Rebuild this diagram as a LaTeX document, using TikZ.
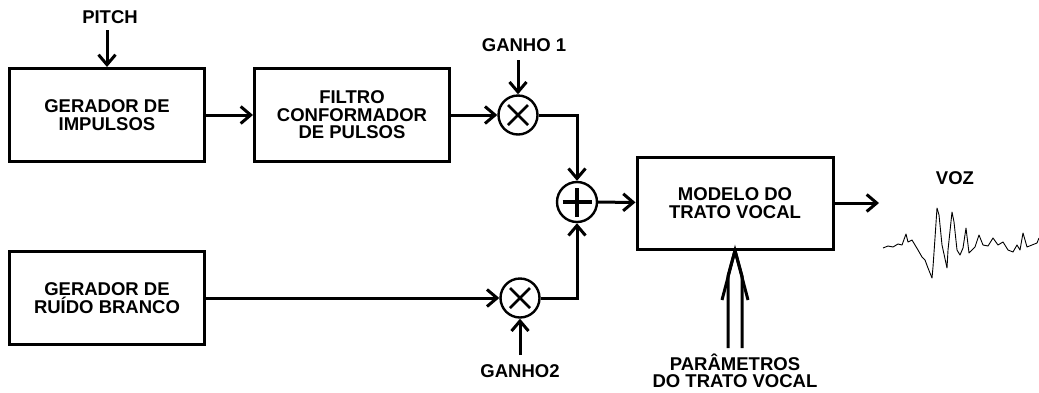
\documentclass[tikz,border=0pt]{standalone}
\usepackage{fontspec}
\setmainfont{Liberation Sans}
\usepackage{tikz}
\usetikzlibrary{arrows.meta, positioning}

\begin{document}
\begin{tikzpicture}[
    x=1pt, y=-1pt,
    font=\bfseries\fontsize{18.5}{17.5}\selectfont,
    block/.style={rectangle, draw, line width=3pt, minimum width=195pt,
                 minimum height=93pt, align=center, inner sep=0pt},
    lbl/.style={align=center, inner sep=0pt},
    mult/.style={circle, draw, line width=2.4pt, minimum size=39pt, inner sep=0pt,
                 path picture={
                   \draw[line width=2.8pt]
                     ([shift={(-10pt,-10pt)}]path picture bounding box.center) --
                     ([shift={(10pt,10pt)}]path picture bounding box.center);
                   \draw[line width=2.8pt]
                     ([shift={(-10pt,10pt)}]path picture bounding box.center) --
                     ([shift={(10pt,-10pt)}]path picture bounding box.center);}},
    summer/.style={circle, draw, line width=2.4pt, minimum size=40pt, inner sep=0pt,
                 path picture={
                   \draw[line width=3.8pt]
                     ([xshift=-14.5pt]path picture bounding box.center) --
                     ([xshift=14.5pt]path picture bounding box.center);
                   \draw[line width=3.8pt]
                     ([yshift=-14.5pt]path picture bounding box.center) --
                     ([yshift=14.5pt]path picture bounding box.center);}},
    arr/.style={-{Straight Barb[length=10pt, width=17pt]}, line width=3pt},
    wire/.style={line width=3pt}
  ]
  \useasboundingbox (0,0) rectangle (1039,392);

  % blocks
  \node[block] (impulse) at (107,115) {GERADOR DE\\IMPULSOS};
  \node[block] (shaper) at (352,115) {FILTRO\\CONFORMADOR\\DE PULSOS};
  \node[block] (noise) at (107,298) {GERADOR DE\\RU\'IDO BRANCO};
  \node[block, minimum width=196pt, minimum height=92pt] (tract) at (735,203) {MODELO DO\\TRATO VOCAL};

  % gains and sum
  \node[mult] (mult1) at (518,115) {};
  \node[mult] (mult2) at (520,298) {};
  \node[summer] (sum) at (577,202) {};

  % labels
  \node[lbl] (pitch) at (110,17) {PITCH};
  \node[lbl] (gain1) at (524,45) {GANHO 1};
  \node[lbl] (gain2) at (520,371) {GANHO2};
  \node[lbl] (voice) at (955,178) {VOZ};
  \node[lbl] (params) at (735,371) {PAR\^AMETROS\\DO TRATO VOCAL};

  \coordinate (pitchin) at (107,30);
  \coordinate (gain1in) at (518,60);
  \coordinate (gain2in) at (520,355);
  \coordinate (voiceout) at (879,203);

  % connectors
  \draw[arr] (pitchin) -- (impulse.north -| pitchin);
  \draw[arr] (impulse) -- (shaper);
  \draw[arr] (shaper) -- (mult1);
  \draw[arr] (noise) -- (mult2);
  \draw[arr] (gain1in) -- (mult1);
  \draw[arr] (gain2in) -- (mult2);
  \draw[arr] (mult1.east) -| (sum.north);
  \draw[arr] (mult2.east) -| (sum.south);
  \draw[arr] (sum) -- (tract);
  \draw[arr] (tract) -- (voiceout);

  % double arrow of the tract parameters
  \coordinate (partip) at (tract.south);
  \coordinate (parL) at (728,348);
  \coordinate (parR) at (742,348);
  \draw[wire] (parL) -- (728,276) -- (partip);
  \draw[wire] (parR) -- (742,276) -- (partip);
  \draw[wire] (722,300) -- (partip) -- (748,300);

  % speech waveform
  \draw[line width=0.9pt, line join=round]
    (883,248) -- (888,246) -- (893,247) -- (898,244) -- (902,245) -- (906,234)
    -- (908,242) -- (912,240) -- (915,245) -- (918,250) -- (922,257) -- (925,260)
    -- (928,268) -- (932,278) -- (933,267) -- (935,238) -- (937,208) -- (939,215)
    -- (942,245) -- (947,268) -- (948,250) -- (952,212) -- (954,222) -- (957,250)
    -- (960,255) -- (963,248) -- (966,228) -- (969,253) -- (975,247) -- (979,235)
    -- (983,245) -- (988,246) -- (993,238) -- (998,245) -- (1003,242) -- (1008,250)
    -- (1013,252) -- (1017,245) -- (1020,250) -- (1023,233) -- (1027,247)
    -- (1032,245) -- (1037,243) -- (1039,238);

\end{tikzpicture}
\end{document}
